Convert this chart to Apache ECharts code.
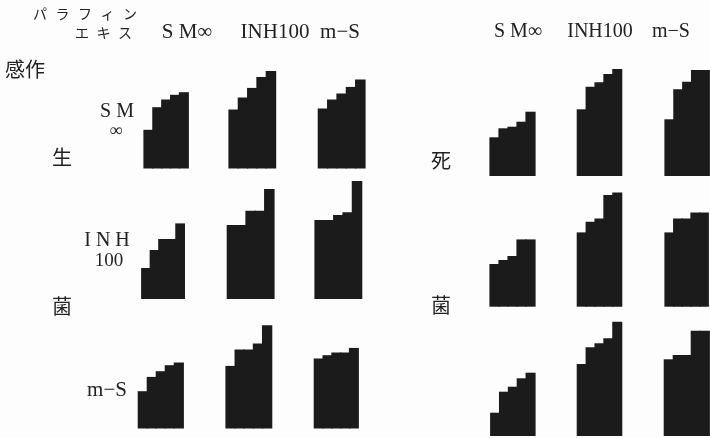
<!DOCTYPE html>
<html><head><meta charset="utf-8">
<script src="https://cdn.jsdelivr.net/npm/echarts@6/dist/echarts.min.js"></script>
<style>html,body{margin:0;padding:0;background:#fff}#c{width:710px;height:438px}</style>
</head><body><div id="c"></div>
<script>
// Column headers: paraffin extract used for the test
const extracts = ['S M∞', 'INH100', 'm−S'];
// Row labels: sensitization
const sensitizers = ['SM∞', 'INH100', 'm−S'];
const panels = ['生菌', '死菌'];
const steps = ['1', '2', '3', '4', '5'];

// Live bacteria (生菌) – step heights, one array of 3 groups per sensitization row
const liveSM  = [[38.7, 61.3, 69, 73.7, 76.3], [59, 71, 80.6, 91.6, 97.6], [60, 69, 75, 81.6, 89]];
const liveINH = [[31, 49, 60, 60, 75.6], [74, 74, 88.3, 88.3, 110], [79, 79, 84, 86.7, 118]];
const liveMS  = [[37.3, 51.6, 57.3, 63.3, 66], [62.6, 79, 79, 85, 103.3], [70, 73.3, 76, 76, 80.6]];
// Killed bacteria (死菌)
const deadSM  = [[38.7, 47.7, 49.3, 54.3, 64.3], [66.7, 89.3, 93.7, 102, 107], [56.7, 86.7, 94.3, 106, 106]];
const deadINH = [[42.7, 46.7, 50.7, 67.3, 67.3], [74.3, 85, 88.3, 111.7, 114.3], [74.3, 88.3, 88.3, 94.3, 94.3]];
const deadMS  = [[23.3, 44.3, 49.3, 57.7, 63.3], [72, 88.7, 92.7, 97.7, 114.3], [76.7, 81, 81, 105.3, 105.3]];

// layout (pixels)
const layout = [
  {data: liveSM,  bottom: 168.5, lefts: [144, 229, 318.3], widths: [44.3, 46.6, 46.7]},
  {data: liveINH, bottom: 299,   lefts: [141.7, 227.3, 315], widths: [42.7, 46.7, 46.7]},
  {data: liveMS,  bottom: 428.5, lefts: [138.3, 226, 314.3], widths: [45, 45.7, 44]},
  {data: deadSM,  bottom: 176,   lefts: [490, 577.3, 665], widths: [45, 44.4, 44.3]},
  {data: deadINH, bottom: 306.7, lefts: [490, 577.3, 665], widths: [45, 44.4, 43.3]},
  {data: deadMS,  bottom: 436,   lefts: [490.7, 577.3, 664.3], widths: [44.3, 44.4, 45]}
];
const YMAX = 130;

const grids = [], xAxes = [], yAxes = [], series = [];
layout.forEach(row => {
  row.data.forEach((vals, j) => {
    const idx = grids.length;
    const w = row.widths[j];
    // extend bars by 1px beyond the grid so the clipping doesn't cut the outer edges
    grids.push({left: row.lefts[j], top: row.bottom - YMAX, width: w, height: YMAX, containLabel: false});
    xAxes.push({type: 'category', gridIndex: idx, data: steps, show: false, boundaryGap: true});
    yAxes.push({type: 'value', gridIndex: idx, min: 0, max: YMAX, show: false});
    series.push({type: 'bar', xAxisIndex: idx, yAxisIndex: idx, data: vals,
      barWidth: w / steps.length + 1.2, clip: false, silent: true,
      itemStyle: {color: '#1b1b1b'}});
  });
});

const serif = '"Liberation Serif","DejaVu Serif","Noto Sans CJK JP",serif';
const cjk = '"Noto Sans CJK JP",sans-serif';
const txt = (x, y, s, size, font, align) => ({type: 'text', x: x, y: y,
  style: {text: s, fill: '#222', font: size + 'px ' + font, textAlign: align || 'center', textVerticalAlign: 'middle'}});

const g = [];
// パラフィン / エキス spread characters
const para = 'パラフィン'.split('');
para.forEach((ch, i) => g.push(txt(40 + i * 22.5, 14, ch, 14, cjk)));
const ekis = 'エキス'.split('');
ekis.forEach((ch, i) => g.push(txt(82 + i * 21.5, 33, ch, 14, cjk)));
// column headers
const hdrL = [187, 275, 340], hdrR = [518, 600, 671];
extracts.forEach((s, i) => {
  g.push(txt(hdrL[i], 32, s, 21, serif));
  g.push(txt(hdrR[i], 32, s, 20, serif));
});
g.push(txt(25, 69, '感作', 20, cjk));
// panel side labels
g.push(txt(62, 157, panels[0][0], 20, cjk));
g.push(txt(62, 306, panels[0][1], 20, cjk));
g.push(txt(441, 160, panels[1][0], 20, cjk));
g.push(txt(441, 305, panels[1][1], 20, cjk));
// sensitization row labels
g.push(txt(117, 112, 'S M', 20, serif));
g.push(txt(116, 131, '∞', 18, serif));
g.push(txt(107, 241, 'I N H', 20, serif));
g.push(txt(109, 261, '100', 19, serif));
g.push(txt(107, 390, sensitizers[2], 21, serif));

const chart = echarts.init(document.getElementById('c'), null, {renderer: 'canvas'});
chart.setOption({
  backgroundColor: '#fdfdfd',
  animation: false,
  grid: grids, xAxis: xAxes, yAxis: yAxes, series: series,
  graphic: g
});
</script></body></html>
